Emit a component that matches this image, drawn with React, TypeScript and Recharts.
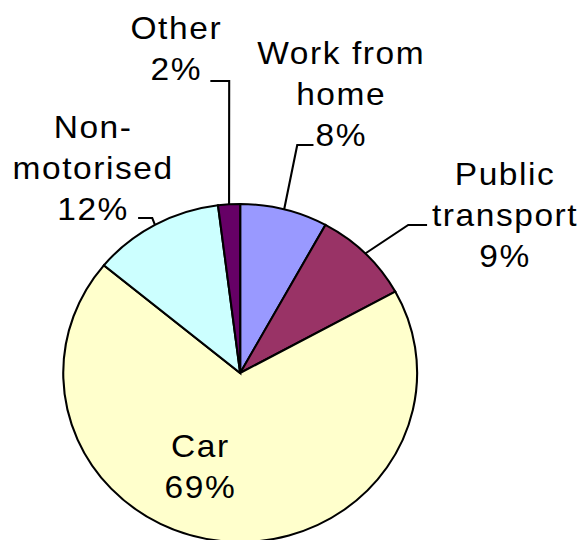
import { Pie, PieChart, Cell } from "recharts"

const categories = ["Work from home", "Public transport", "Car", "Non-motorised", "Other"]
const shares = [8, 9, 69, 12, 2]
const labelLines = [["Work from", "home"], ["Public", "transport"], ["Car"], ["Non-", "motorised"], ["Other"]]
const colors = ["#9999FF", "#993366", "#FFFFCC", "#CCFFFF", "#660066"]

const data = categories.map((name, i) => ({ name, value: shares[i] }))

// source image is slightly wider than tall
const STRETCH = 1.047
const RADIAN = Math.PI / 180
const LINE_H = 41

// label placement relative to pie centre: text centre x, first baseline y, elbow, line end
const layout = [
  { tx: 96.5, ty: -309, elbow: [54.5, -228], end: [70, -228] },
  { tx: 253, ty: -188, elbow: [160.5, -148], end: [178.5, -148] },
  { tx: -38, ty: 84 },
  { tx: -140.5, ty: -235, elbow: [-84, -155], end: [-97.5, -155] },
  { tx: -61, ty: -334, elbow: [-10.5, -292], end: [-28.5, -292] },
]

function renderLabel(props: any) {
  const { cx, cy, midAngle, outerRadius, index, value } = props
  const l = layout[index]
  const lines = [...labelLines[index], `${value}%`]
  const sx = cx + outerRadius * Math.cos(-midAngle * RADIAN)
  const sy = cy + outerRadius * Math.sin(-midAngle * RADIAN)
  return (
    <g key={`lbl-${index}`}>
      {l.elbow && (
        <polyline
          points={`${sx},${sy} ${cx + l.elbow[0]},${cy + l.elbow[1]} ${cx + l.end![0]},${cy + l.end![1]}`}
          fill="none"
          stroke="#000"
          strokeWidth={2}
        />
      )}
      <text
        x={cx + l.tx}
        y={cy + l.ty}
        textAnchor="middle"
        fill="#000"
        fontSize={32}
        letterSpacing={1.5}
        fontFamily="'Liberation Sans', Arial, sans-serif"
      >
        {lines.map((t, i) => (
          <tspan key={i} x={cx + l.tx} dy={i === 0 ? 0 : LINE_H}>
            {t}
          </tspan>
        ))}
      </text>
    </g>
  )
}

export default function App() {
  return (
    <div
      style={{
        position: "absolute",
        left: 0,
        top: 0,
        width: 558,
        height: 540,
        background: "#fff",
        transform: `scaleX(${STRETCH})`,
        transformOrigin: "0 0",
      }}
    >
      <PieChart width={558} height={540}>
        <Pie
          data={data}
          dataKey="value"
          nameKey="name"
          cx={224.4}
          cy={368}
          outerRadius={169}
          startAngle={90}
          endAngle={-270}
          stroke="#000"
          strokeWidth={2}
          label={renderLabel}
          labelLine={false}
          isAnimationActive={false}
        >
          {data.map((d, i) => (
            <Cell key={d.name} fill={colors[i]} />
          ))}
        </Pie>
      </PieChart>
    </div>
  )
}
